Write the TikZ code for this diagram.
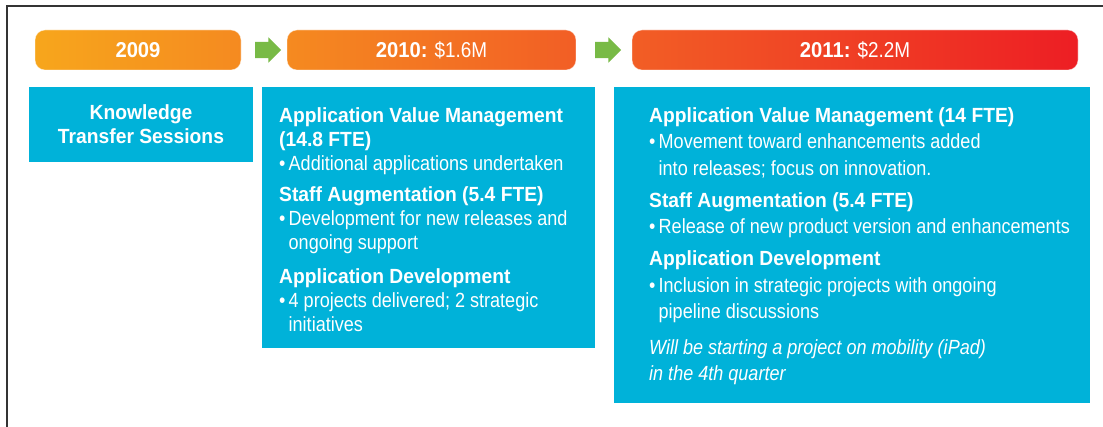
\documentclass[tikz,border=0pt]{standalone}
\usepackage{fontspec}
\setmainfont{Liberation Sans}[
  UprightFeatures={FakeStretch=0.88},
  BoldFeatures={FakeStretch=0.94},
  ItalicFeatures={FakeStretch=0.88}]
\usepackage{tikz}
\usetikzlibrary{positioning,shapes.arrows,calc}
\definecolor{framegray}{RGB}{52,52,52}
\definecolor{tealbox}{RGB}{0,178,217}
\definecolor{stepgreen}{RGB}{120,186,70}
\definecolor{amberA}{RGB}{247,166,28}
\definecolor{amberB}{RGB}{245,138,32}
\definecolor{flameA}{RGB}{242,94,37}
\definecolor{flameB}{RGB}{237,30,36}
\newcommand\bulitem{\makebox[9.5pt][l]{\textbullet}}
\newcommand\bulcont{\hspace*{9.5pt}}
\tikzset{
  % --- year bars -------------------------------------------------------------
  yearbar/.style={
    rectangle, rounded corners=10pt, draw=white, draw opacity=0.45,
    line width=0.8pt, minimum height=40pt, inner sep=0pt, outer sep=0pt,
    text=white, font=\fontsize{21.5pt}{24pt}\selectfont
  },
  stepgo/.style={
    single arrow, fill=stepgreen, draw=none, inner xsep=0pt, inner ysep=8pt,
    minimum height=26pt, single arrow head extend=4.5pt
  },
  % --- content panels --------------------------------------------------------
  panel/.style={
    rectangle, fill=tealbox, draw=none, inner sep=0pt, outer sep=0pt,
    anchor=north west
  },
  paneltext/.style={
    anchor=north west, inner sep=0pt, align=left, text=white
  },
  framestyle/.style={draw=framegray, line width=2pt},
}
\begin{document}
\begin{tikzpicture}[x=1pt, y=-1pt, node distance=46pt]
  \useasboundingbox (0,0) rectangle (1103,427);
  \draw[framestyle] (7,427) |- (1103,6);

  % year bars
  \node[yearbar, anchor=north west, minimum width=206pt, left color=amberA, right color=amberB]
    (h09) at (35,30) {\textbf{2009}};
  \node[yearbar, right=46pt of h09, minimum width=289pt, left color=amberB, right color=flameA]
    (h10) {\textbf{2010:} \$1.6M};
  \node[yearbar, right=56pt of h10, minimum width=446pt, left color=flameA, right color=flameB]
    (h11) {\textbf{2011:} \$2.2M};

  \node[stepgo] (go1) at ($(h09.east)!0.5!(h10.west)$) {};
  \node[stepgo] (go2) at ($(h10.east)!0.5!(h11.west)$) {};

  % panels
  \node[panel, minimum width=224pt, minimum height=75pt, align=center, text=white,
    font=\bfseries\fontsize{20.5pt}{24pt}\selectfont]
    (b09) at (29,87) {Knowledge\\Transfer Sessions};
  \node[panel, minimum width=333pt, minimum height=261pt] (b10) at (262,87) {};
  \node[panel, minimum width=476pt, minimum height=316pt] (b11) at (614,87) {};

  \node[paneltext, font=\fontsize{20.5pt}{24pt}\selectfont]
    (t10) at ([shift={(17pt,-20pt)}]b10.north west) {%
    \textbf{Application Value Management}\\
    \textbf{(14.8 FTE)}\\
    \bulitem Additional applications undertaken\\[7.5pt]
    \textbf{Staff Augmentation (5.4 FTE)}\\
    \bulitem Development for new releases and\\
    \bulcont ongoing support\\[9.5pt]
    \textbf{Application Development}\\
    \bulitem 4 projects delivered; 2 strategic\\
    \bulcont initiatives};

  \node[paneltext, font=\fontsize{20.5pt}{26.5pt}\selectfont]
    (t11) at ([shift={(35pt,-20pt)}]b11.north west) {%
    \textbf{Application Value Management (14 FTE)}\\
    \bulitem Movement toward enhancements added\\
    \bulcont into releases; focus on innovation.\\[5.8pt]
    \textbf{Staff Augmentation (5.4 FTE)}\\
    \bulitem Release of new product version and enhancements\\[5.2pt]
    \textbf{Application Development}\\
    \bulitem Inclusion in strategic projects with ongoing\\
    \bulcont pipeline discussions\\[9pt]
    \textit{Will be starting a project on mobility (iPad)}\\
    \textit{in the 4th quarter}};
\end{tikzpicture}
\end{document}
